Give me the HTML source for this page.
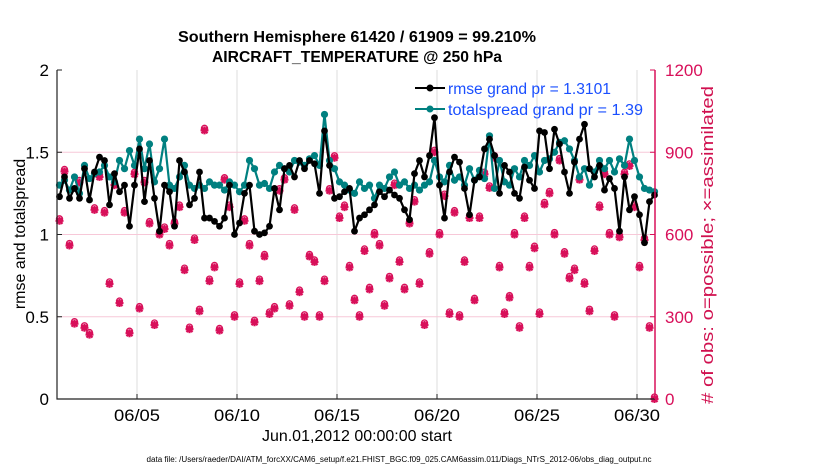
<!DOCTYPE html>
<html><head><meta charset="utf-8"><style>
html,body{margin:0;padding:0;background:#fff;}
svg text{font-family:"Liberation Sans",Arial,sans-serif;}
</style></head><body>
<svg id="chart" width="830" height="470" viewBox="0 0 830 470" xmlns="http://www.w3.org/2000/svg">
<rect width="830" height="470" fill="#fff"/>
<text x="357" y="42" text-anchor="middle" font-size="15.5" font-weight="bold" textLength="358" lengthAdjust="spacingAndGlyphs">Southern Hemisphere 61420 / 61909 = 99.210%</text>
<text x="357" y="62" text-anchor="middle" font-size="15.5" font-weight="bold" textLength="290" lengthAdjust="spacingAndGlyphs">AIRCRAFT_TEMPERATURE @ 250 hPa</text>
<g id="grid"></g>
<g id="pink"></g>
<g id="lines"></g>
<g id="axes"></g>
<g>
<line x1="415" y1="88" x2="445" y2="88" stroke="#000" stroke-width="2"/><circle cx="430" cy="88" r="3.5" fill="#000"/>
<text x="448" y="94" font-size="15.5" fill="#1a4fff" textLength="163" lengthAdjust="spacingAndGlyphs">rmse grand pr = 1.3101</text>
<line x1="415" y1="109" x2="445" y2="109" stroke="#008080" stroke-width="2"/><circle cx="430" cy="109" r="3.5" fill="#008080"/>
<text x="448" y="115" font-size="15.5" fill="#1a4fff" textLength="195" lengthAdjust="spacingAndGlyphs">totalspread grand pr = 1.39</text>
</g>
<text transform="translate(25,234) rotate(-90)" text-anchor="middle" font-size="16">rmse and totalspread</text>
<text transform="translate(713,245) rotate(-90)" text-anchor="middle" font-size="16.5" fill="#d0104f" textLength="318" lengthAdjust="spacingAndGlyphs"># of obs: o=possible; ×=assimilated</text>
<text x="357" y="441" text-anchor="middle" font-size="16" textLength="190" lengthAdjust="spacingAndGlyphs">Jun.01,2012 00:00:00 start</text>
<text x="399" y="462" text-anchor="middle" font-size="8" textLength="505" lengthAdjust="spacingAndGlyphs">data file: /Users/raeder/DAI/ATM_forcXX/CAM6_setup/f.e21.FHIST_BGC.f09_025.CAM6assim.011/Diags_NTrS_2012-06/obs_diag_output.nc</text>
</svg>
<script>
const rmseValues=[1.23,1.35,1.22,1.28,1.22,1.40,1.21,1.38,1.47,1.45,1.18,1.37,1.26,1.30,1.05,1.30,1.52,1.20,1.45,1.22,1.02,1.30,1.26,1.05,1.45,1.38,1.18,1.22,1.38,1.10,1.10,1.08,1.05,1.10,1.30,1.00,1.07,1.25,1.30,1.02,1.00,1.01,1.05,1.28,1.15,1.40,1.42,1.35,1.45,1.40,1.45,1.43,1.25,1.63,1.42,1.22,1.23,1.26,1.28,1.02,1.10,1.12,1.15,1.18,1.26,1.23,1.27,1.24,1.22,1.15,1.09,1.37,1.45,1.35,1.48,1.71,1.30,1.10,1.38,1.47,1.44,1.28,1.12,1.33,1.35,1.52,1.58,1.48,1.25,1.42,1.38,1.25,1.22,1.41,1.33,1.28,1.63,1.62,1.40,1.64,1.55,1.38,1.25,1.44,1.58,1.67,1.40,1.35,1.42,1.27,1.34,1.28,1.02,1.35,1.15,1.23,1.12,0.95,1.20,1.24];
const spreadValues=[1.30,1.33,1.27,1.35,1.25,1.42,1.34,1.37,1.38,1.42,1.35,1.32,1.45,1.40,1.51,1.42,1.58,1.40,1.55,1.32,1.40,1.58,1.30,1.28,1.35,1.42,1.30,1.28,1.30,1.28,1.32,1.30,1.30,1.27,1.32,1.30,1.26,1.30,1.45,1.40,1.30,1.31,1.28,1.38,1.42,1.40,1.38,1.45,1.44,1.42,1.46,1.48,1.42,1.73,1.45,1.40,1.32,1.30,1.27,1.25,1.32,1.28,1.30,1.22,1.30,1.28,1.35,1.38,1.30,1.32,1.28,1.30,1.27,1.30,1.32,1.45,1.35,1.32,1.42,1.33,1.35,1.30,1.40,1.33,1.39,1.34,1.60,1.28,1.45,1.32,1.30,1.40,1.35,1.45,1.42,1.48,1.38,1.45,1.46,1.50,1.56,1.57,1.52,1.45,1.35,1.40,1.30,1.38,1.45,1.40,1.45,1.38,1.46,1.42,1.58,1.45,1.35,1.28,1.27,1.26];
const obsCounts=[650,830,560,275,790,260,235,690,810,680,420,780,350,680,240,820,330,790,640,270,600,620,560,640,700,470,255,580,320,980,430,480,250,800,700,300,420,650,560,280,430,520,310,330,760,800,340,690,390,300,520,500,300,430,760,880,660,700,480,360,300,540,400,600,560,340,440,780,500,400,640,720,420,270,530,900,600,740,310,680,300,500,660,360,660,820,770,880,480,310,370,600,260,660,480,550,310,710,750,600,870,530,440,470,800,420,320,540,700,820,600,300,590,820,850,700,480,580,260,0];
const leftTicks=[0,0.5,1,1.5,2];
const rightTicks=[0,300,600,900,1200];
const dateTicks=[4,9,14,19,24,29];
const dateLabels=["06/05","06/10","06/15","06/20","06/25","06/30"];

const L=57,R=655,T=70,B=399;
const xDay=d=>L+d*20;
const yL=v=>B-(v/2)*(B-T);
const yR=v=>B-(v/1200)*(B-T);
const ns="http://www.w3.org/2000/svg";
function mk(tag,parent,attrs){const e=document.createElementNS(ns,tag);for(const k in attrs)e.setAttribute(k,attrs[k]);parent.appendChild(e);return e;}
const grid=document.getElementById('grid'),pink=document.getElementById('pink'),lines=document.getElementById('lines'),axes=document.getElementById('axes');
const PINK="#d8105a";
dateTicks.forEach((d,i)=>{
  const g=mk('line',grid,{x1:xDay(d),x2:xDay(d),y1:T,y2:B,stroke:'#dcdcdc','stroke-width':1});
  
  
  const t=mk('line',axes,{x1:xDay(d),x2:xDay(d),y1:B,y2:B-5,stroke:'#222'});
  
  
  const lb=mk('text',axes,{x:xDay(d),y:B+22,'text-anchor':'middle','font-size':17,textLength:46,lengthAdjust:'spacingAndGlyphs'});
  lb.textContent=dateLabels[i];
  
  
});
rightTicks.forEach(v=>{
  if(v>0&&v<1200){const g=mk('line',grid,{x1:L,x2:R,y1:yR(v),y2:yR(v),stroke:'#f7c8d8','stroke-width':1});
  
  }
  const t=mk('line',axes,{x1:R,x2:R-5,y1:yR(v),y2:yR(v),stroke:PINK});
  
  
  const lb=mk('text',axes,{x:R+10,y:yR(v)+6,'font-size':17,fill:PINK});
  lb.textContent=v;
  
  
});
leftTicks.forEach(v=>{
  const t=mk('line',axes,{x1:L,x2:L+5,y1:yL(v),y2:yL(v),stroke:'#222'});
  
  
  const lb=mk('text',axes,{x:L-8,y:yL(v)+6,'text-anchor':'end','font-size':17});
  lb.textContent=v;
  
  
});
const dAt=i=>0.125+0.25*i;
obsCounts.forEach((c,i)=>{
  const x=xDay(dAt(i)),y=yR(c);
  const o=mk('circle',pink,{cx:x,cy:y-2,r:3,fill:'none',stroke:PINK,'stroke-width':1.3});
  
  
  const s=mk('path',pink,{d:`M${x-4} ${y}H${x+4}M${x} ${y-4}V${y+4}M${x-3} ${y-3}L${x+3} ${y+3}M${x-3} ${y+3}L${x+3} ${y-3}`,stroke:PINK,'stroke-width':2.2});
  
  
});
function series(vals,color,r,name){
  const pts=vals.map((v,i)=>`${xDay(dAt(i)).toFixed(1)},${yL(v).toFixed(1)}`).join(' ');
  const pl=mk('polyline',lines,{points:pts,fill:'none',stroke:color,'stroke-width':2.2,'stroke-linejoin':'round'});
  
  
  vals.forEach((v,i)=>{
    const c=mk('circle',lines,{cx:xDay(dAt(i)),cy:yL(v),r:r,fill:color});
    
    
  });
}
series(spreadValues,'#008080',3.6,'totalspread');
series(rmseValues,'#000',3.4,'rmse');
const ax=mk('path',axes,{d:`M${L} ${T}V${B}H${R}`,fill:'none',stroke:'#222','stroke-width':1.2});


const ra=mk('line',axes,{x1:R,x2:R,y1:T,y2:B,stroke:PINK,'stroke-width':1.5});


</script>
</body></html>
